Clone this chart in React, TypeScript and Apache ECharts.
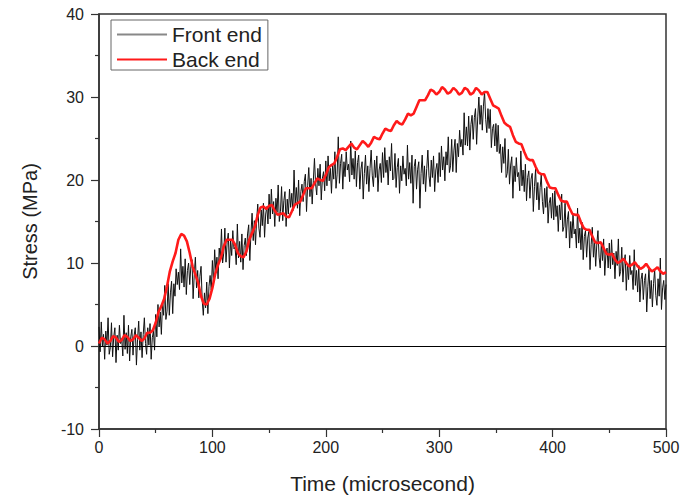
import React, { useEffect, useRef } from "react";
import * as echarts from "echarts";

// Sampling step of each recorded signal (microseconds)
const frontStep = 1;
const backStep = 2.5;

// Front end stress (MPa), one reading per µs from 0 to 500 µs
const frontEnd: number[] = [
  2.3, -0.7, 2.9, -0.1, 1.4, -1.6, 1.8, 0.1, 3.4, -1.0,
  -0.2, 2.8, -1.3, 1.1, 2.2, -2.0, 1.3, -0.5, 2.5, 0.3,
  0.9, -1.2, 3.7, -0.4, 1.6, -0.9, 2.5, -1.8, 1.1, 2.0,
  -1.1, 1.3, 2.2, -2.3, 0.8, 3.0, -0.5, 1.7, -1.4, 1.4,
  3.4, 0.3, -1.0, 2.2, 0.1, 2.7, -1.6, 1.0, 1.8, -0.5,
  3.8, 1.1, 5.0, 2.3, 4.1, 1.4, 5.1, 3.7, 7.3, 3.2,
  4.2, 7.5, 3.7, 6.4, 7.8, 3.9, 7.5, 6.0, 9.3, 7.4,
  8.9, 6.8, 11.7, 7.6, 9.6, 7.1, 10.5, 6.2, 9.1, 10.0,
  7.4, 9.6, 10.4, 5.7, 8.6, 10.7, 7.0, 9.1, 5.8, 8.4,
  9.6, 5.5, 3.7, 6.4, 4.6, 7.7, 3.9, 7.2, 8.5, 6.7,
  10.3, 7.6, 11.6, 8.9, 10.7, 8.1, 11.8, 10.4, 14.1, 10.0,
  11.2, 14.2, 10.1, 12.5, 13.6, 9.4, 12.7, 10.9, 13.9, 11.7,
  11.9, 9.8, 14.7, 10.6, 12.6, 10.1, 13.5, 9.2, 12.1, 13.0,
  10.9, 13.5, 14.6, 10.3, 13.6, 16.0, 12.7, 15.1, 12.2, 15.2,
  17.1, 14.2, 13.1, 16.4, 14.5, 17.2, 13.1, 15.9, 16.8, 14.7,
  18.3, 15.3, 18.9, 15.9, 17.4, 14.4, 17.8, 16.1, 19.4, 15.0,
  16.2, 19.2, 15.1, 17.5, 18.6, 14.4, 17.7, 15.9, 18.9, 16.7,
  18.4, 16.3, 21.2, 17.1, 19.1, 16.6, 20.0, 15.7, 18.6, 19.5,
  17.4, 19.8, 20.7, 16.2, 19.3, 21.5, 18.0, 20.2, 17.1, 19.9,
  22.6, 19.5, 18.2, 21.4, 19.3, 21.9, 17.6, 20.2, 21.0, 18.7,
  22.3, 19.3, 22.9, 19.9, 21.4, 18.4, 21.8, 20.1, 23.4, 19.0,
  20.7, 25.2, 19.6, 22.0, 23.1, 18.9, 22.2, 20.4, 23.4, 21.2,
  21.9, 19.8, 24.7, 20.6, 22.6, 20.1, 23.5, 19.2, 22.1, 23.0,
  18.9, 21.3, 22.2, 17.7, 20.8, 23.0, 19.5, 21.7, 18.6, 21.4,
  23.6, 20.5, 19.2, 22.4, 20.3, 22.9, 18.6, 21.2, 22.0, 19.7,
  23.3, 20.3, 23.9, 20.9, 22.4, 19.4, 22.8, 21.1, 24.4, 20.0,
  20.2, 23.2, 19.1, 21.5, 22.6, 18.4, 21.7, 19.9, 22.9, 20.7,
  21.4, 19.3, 24.2, 20.1, 22.1, 19.6, 23.0, 17.2, 21.6, 22.5,
  18.9, 21.3, 22.2, 16.6, 20.8, 23.0, 19.5, 21.7, 18.6, 21.4,
  23.6, 20.5, 19.2, 22.4, 20.3, 22.9, 18.6, 21.2, 22.0, 19.7,
  23.3, 20.4, 24.1, 21.2, 22.8, 19.9, 23.4, 21.8, 25.2, 20.9,
  21.7, 24.9, 21.0, 23.6, 24.9, 20.9, 24.4, 22.8, 26.0, 24.0,
  24.9, 23.0, 28.1, 24.2, 26.4, 24.1, 27.7, 23.6, 26.7, 27.8,
  24.9, 27.5, 28.6, 24.3, 27.6, 30.0, 26.7, 29.0, 26.0, 28.9,
  30.6, 27.3, 25.7, 28.6, 26.2, 28.5, 23.9, 26.2, 26.7, 24.1,
  26.8, 23.4, 26.6, 23.2, 24.3, 20.9, 24.0, 22.0, 25.0, 20.3,
  20.8, 23.7, 19.5, 21.8, 22.8, 17.8, 21.7, 19.8, 22.7, 20.4,
  20.9, 18.7, 23.5, 19.3, 21.2, 18.6, 21.9, 17.5, 20.3, 21.1,
  17.8, 20.1, 20.8, 16.2, 19.2, 21.3, 17.6, 19.7, 16.4, 19.1,
  20.6, 17.4, 15.9, 19.0, 16.7, 19.2, 14.8, 17.2, 17.9, 15.4,
  18.4, 15.2, 18.7, 15.6, 16.9, 13.8, 17.0, 15.2, 18.3, 13.8,
  14.4, 17.2, 13.0, 15.2, 16.2, 11.8, 15.0, 13.0, 15.9, 13.5,
  14.1, 11.8, 16.6, 12.4, 14.2, 11.6, 14.9, 10.4, 13.2, 13.9,
  10.7, 13.0, 13.8, 9.2, 12.2, 14.3, 10.7, 12.8, 9.6, 12.3,
  13.9, 10.7, 9.4, 12.5, 10.3, 12.9, 8.5, 11.0, 11.8, 9.4,
  12.4, 9.3, 12.8, 9.8, 11.2, 8.1, 11.4, 9.7, 12.9, 8.4,
  9.0, 11.9, 7.7, 10.0, 11.0, 6.7, 9.9, 8.0, 10.9, 8.6,
  9.1, 6.8, 11.6, 7.3, 9.1, 6.5, 9.7, 5.3, 8.0, 8.8,
  5.6, 7.9, 8.7, 4.1, 7.2, 9.3, 5.7, 7.9, 4.7, 7.5,
  9.2, 6.1, 4.9, 8.1, 6.0, 10.6, 4.4, 7.0, 7.9, 5.6,
  7.4,
];

// Back end stress (MPa), one reading per 2.5 µs from 0 to 500 µs
const backEnd: number[] = [
  0.3, 1.0, 0.8, 0.3, 0.6, 1.2, 1.0, 0.5, 0.7, 1.3,
  1.1, 0.6, 0.8, 1.3, 1.0, 0.6, 0.9, 1.6, 1.6, 1.9,
  2.8, 4.1, 4.8, 5.7, 7.2, 9.0, 10.2, 11.2, 12.8, 13.5,
  13.3, 12.6, 11.2, 9.6, 8.6, 7.6, 6.0, 5.1, 5.0, 5.7,
  7.0, 8.7, 9.8, 10.6, 12.0, 12.8, 12.8, 12.8, 12.2, 11.2,
  10.8, 10.7, 11.4, 12.8, 13.6, 14.4, 15.8, 16.7, 16.8, 16.5,
  16.9, 17.0, 16.3, 15.8, 15.9, 16.0, 15.6, 15.5, 16.2, 17.0,
  17.2, 17.4, 18.2, 19.0, 19.0, 19.0, 19.6, 20.2, 20.0, 19.9,
  20.6, 21.5, 21.8, 22.0, 22.8, 23.7, 23.8, 23.6, 24.0, 24.4,
  23.9, 23.7, 24.2, 24.7, 24.4, 24.0, 24.5, 25.2, 25.0, 24.9,
  25.6, 26.2, 26.0, 25.9, 26.6, 27.1, 26.8, 26.7, 27.3, 28.0,
  27.8, 28.0, 28.8, 29.6, 29.6, 29.6, 30.2, 30.9, 30.7, 30.3,
  30.6, 31.2, 30.9, 30.4, 30.6, 31.1, 30.8, 30.3, 30.5, 31.1,
  30.9, 30.3, 30.5, 31.1, 30.8, 30.3, 30.6, 30.6, 29.8, 29.0,
  28.8, 28.6, 27.7, 26.9, 26.6, 26.4, 25.4, 24.6, 24.4, 24.3,
  23.4, 22.6, 22.4, 22.4, 21.6, 20.9, 20.7, 20.7, 19.8, 19.1,
  19.0, 19.0, 18.2, 17.5, 17.4, 17.4, 16.6, 15.9, 15.8, 15.8,
  14.9, 14.2, 14.0, 14.0, 13.2, 12.5, 12.4, 12.5, 11.8, 11.1,
  11.0, 11.1, 10.4, 10.0, 10.2, 10.5, 10.0, 9.6, 9.8, 10.1,
  9.6, 9.3, 9.5, 9.9, 9.4, 9.0, 9.2, 9.5, 9.0, 8.7,
  8.9,
];

const seriesNames = ["Front end", "Back end"];
const xTitle = "Time (microsecond)";
const yTitle = "Stress (MPa)";

const FONT = "'Liberation Sans', Arial, sans-serif";

export default function App() {
  const ref = useRef<HTMLDivElement>(null);

  useEffect(() => {
    if (!ref.current) return;
    const chart = echarts.init(ref.current, undefined, { renderer: "svg" });

    const frontData = frontEnd.map((v, i) => [i * frontStep, v]);
    const backData = backEnd.map((v, i) => [i * backStep, v]);

    const axisCommon = {
      axisLine: { show: true, onZero: false, lineStyle: { color: "#333", width: 1.5 } },
      axisTick: { show: true, inside: false, length: 8, lineStyle: { color: "#333", width: 1.2 } },
      minorTick: { show: true, splitNumber: 2, length: 4, lineStyle: { color: "#333", width: 1.2 } },
      splitLine: { show: false },
      axisLabel: { color: "#222", fontSize: 16, fontFamily: FONT },
      nameTextStyle: { color: "#222", fontSize: 21, fontFamily: FONT },
    };

    chart.setOption({
      animation: false,
      backgroundColor: "#fff",
      grid: {
        left: 99,
        top: 14,
        right: 17,
        bottom: 69,
        show: true,
        borderColor: "#333",
        borderWidth: 1.5,
        backgroundColor: "transparent",
      },
      legend: {
        left: 111,
        top: 20,
        orient: "vertical",
        padding: [4, 6, 0, 6],
        itemGap: 4,
        itemWidth: 50,
        itemHeight: 2,
        itemTextGap: 7,
        borderColor: "#666",
        borderWidth: 1,
        textStyle: { color: "#222", fontSize: 21, fontFamily: FONT, lineHeight: 21 },
        data: [
          { name: seriesNames[0], icon: "rect", itemStyle: { color: "#888" } },
          { name: seriesNames[1], icon: "rect", itemStyle: { color: "#ff1a1a" } },
        ],
      },
      xAxis: {
        type: "value",
        min: 0,
        max: 500,
        interval: 100,
        name: xTitle,
        nameLocation: "middle",
        nameGap: 44,
        ...axisCommon,
        axisLabel: { ...axisCommon.axisLabel, margin: 10 },
      },
      yAxis: {
        type: "value",
        min: -10,
        max: 40,
        interval: 10,
        name: yTitle,
        nameLocation: "middle",
        nameGap: 59,
        ...axisCommon,
        nameTextStyle: { ...axisCommon.nameTextStyle, fontSize: 20 },
        axisLabel: { ...axisCommon.axisLabel, margin: 15 },
      },
      series: [
        {
          name: seriesNames[0],
          type: "line",
          data: frontData,
          showSymbol: false,
          symbol: "none",
          lineStyle: { color: "#111", width: 1 },
          itemStyle: { color: "#111" },
          z: 2,
          markLine: {
            silent: true,
            symbol: ["none", "none"],
            label: { show: false },
            lineStyle: { color: "#000", width: 1.2, type: "solid" },
            data: [{ yAxis: 0 }],
          },
        },
        {
          name: seriesNames[1],
          type: "line",
          data: backData,
          showSymbol: false,
          symbol: "none",
          lineStyle: { color: "#ff1a1a", width: 2.6 },
          itemStyle: { color: "#ff1a1a" },
          z: 3,
        },
      ],
    });

    return () => chart.dispose();
  }, []);

  return (
    <div
      ref={ref}
      style={{ position: "fixed", left: 0, top: 0, width: 683, height: 499 }}
    />
  );
}
